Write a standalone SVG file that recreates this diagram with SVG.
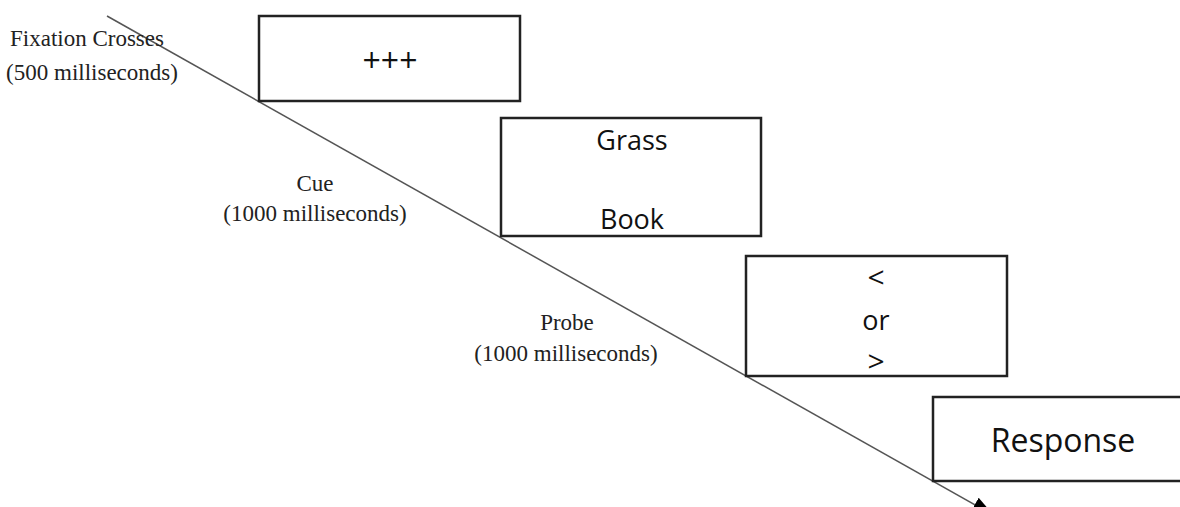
<svg xmlns="http://www.w3.org/2000/svg" width="1180" height="507" viewBox="0 0 1180 507">
<style>
.box{fill:#fff;stroke:#222;stroke-width:2.5}
.lbl{font-family:"Liberation Serif",serif;font-size:23px;fill:#222;text-anchor:middle}
.bt{font-family:"Open Sans","Liberation Sans",sans-serif;font-size:27px;fill:#111;text-anchor:middle}
.conn{stroke:#555;stroke-width:1.5;fill:none}
</style>
<defs>
<marker id="arr" markerWidth="22" markerHeight="16" refX="21" refY="8" orient="auto" markerUnits="userSpaceOnUse" viewBox="0 0 22 16">
<path d="M0,0 L22,8 L0,16 Z" fill="#000"/>
</marker>
</defs>
<rect width="1180" height="507" fill="#fff"/>
<g id="connectors">
<line class="conn" x1="107" y1="16" x2="993" y2="515" marker-end="url(#arr)"/>
</g>
<g id="label-fixation">
<text class="lbl" x="87" y="46">Fixation Crosses</text>
<text class="lbl" x="92" y="80">(500 milliseconds)</text>
</g>
<g id="label-cue">
<text class="lbl" x="315" y="191">Cue</text>
<text class="lbl" x="315" y="221">(1000 milliseconds)</text>
</g>
<g id="label-probe">
<text class="lbl" x="567" y="330">Probe</text>
<text class="lbl" x="566" y="361">(1000 milliseconds)</text>
</g>
<g id="node-fixation">
<rect class="box" x="259" y="16" width="261" height="85"/>
<text class="bt" x="390" y="72" style="font-size:32px">+++</text>
</g>
<g id="node-cue">
<rect class="box" x="501" y="118" width="260" height="118"/>
<text class="bt" x="632" y="150">Grass</text>
<text class="bt" x="632" y="229">Book</text>
</g>
<g id="node-probe">
<rect class="box" x="746" y="256" width="261" height="120"/>
<text class="bt" x="876" y="288" style="font-size:30px">&lt;</text>
<text class="bt" x="876" y="330">or</text>
<text class="bt" x="876" y="372" style="font-size:30px">&gt;</text>
</g>
<g id="node-response">
<rect class="box" x="933" y="397" width="270" height="84"/>
<text class="bt" x="1063" y="452" style="font-size:32px">Response</text>
</g>
</svg>
